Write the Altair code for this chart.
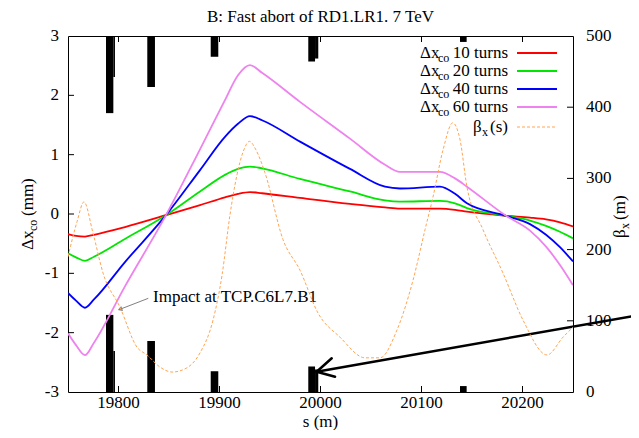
import altair as alt
import pandas as pd

# ---------------- data ----------------
s_pos = [19750.0, 19757.9, 19766.8, 19775.7, 19806.4, 19847.0, 19880.7, 19905.4,
         19918.3, 19930.2, 19942.1, 19979.7, 20029.2, 20063.9, 20078.7, 20118.3,
         20133.2, 20145.0, 20183.7, 20207.4, 20223.3, 20237.1, 20250.0]
dx10 = [-0.34, -0.37, -0.38, -0.35, -0.22, -0.02, 0.15, 0.28, 0.34, 0.37, 0.35, 0.27,
        0.17, 0.11, 0.09, 0.09, 0.07, 0.04, -0.03, -0.06, -0.09, -0.14, -0.21]
dx20 = [-0.66, -0.73, -0.79, -0.72, -0.42, -0.02, 0.38, 0.66, 0.76, 0.80, 0.77, 0.59,
        0.38, 0.23, 0.21, 0.22, 0.18, 0.10, -0.03, -0.11, -0.20, -0.30, -0.41]
dx40 = [-1.33, -1.46, -1.58, -1.44, -0.81, -0.02, 0.74, 1.30, 1.52, 1.65, 1.58, 1.22,
        0.76, 0.46, 0.43, 0.46, 0.34, 0.18, -0.03, -0.17, -0.35, -0.56, -0.80]
dx60 = [-2.01, -2.21, -2.38, -2.17, -1.22, -0.02, 1.09, 1.92, 2.34, 2.51, 2.38, 1.89,
        1.27, 0.83, 0.71, 0.71, 0.60, 0.46, -0.03, -0.28, -0.55, -0.86, -1.20]

beta_s = [19750.0, 19758.9, 19765.8, 19774.8, 19784.7, 19801.5, 19818.3, 19828.2,
          19841.1, 19853.0, 19867.8, 19880.7, 19893.6, 19902.5, 19910.4, 19917.3,
          19923.3, 19929.7, 19936.1, 19945.0, 19962.9, 19979.7, 19997.5, 20019.3,
          20044.1, 20058.9, 20075.7, 20091.6, 20103.5, 20111.4, 20121.3, 20130.9,
          20138.2, 20145.0, 20160.9, 20180.7, 20200.5, 20224.3, 20240.1, 20250.0]
beta_v = [190, 239, 267, 223, 167, 119, 63, 52, 35, 28, 34, 55, 101, 164, 249, 305,
          337, 352, 340, 308, 214, 171, 111, 77, 48, 48, 87, 157, 228, 274, 340, 378,
          354, 288, 228, 167, 101, 52, 77, 91]

ap_s0 = [19787.6, 19794.9, 19828.5, 19891.3, 19987.9, 19994.6, 20138.1]
ap_s1 = [19794.9, 19796.5, 19836.1, 19898.8, 19994.6, 19997.8, 20144.7]
ap_a = [1.70, 2.31, 2.14, 2.65, 2.57, 2.62, 2.90]

x_ticks = [19800, 19900, 20000, 20100, 20200]
y_ticks = [-3, -2, -1, 0, 1, 2, 3]
b_ticks = [0, 100, 200, 300, 400, 500]

series_names = ["10 turns", "20 turns", "40 turns", "60 turns"]
series_colors = ["#ff0000", "#00e600", "#0000ff", "#ee82ee"]
beta_color = "#ffa552"

title_text = "B: Fast abort of RD1.LR1. 7 TeV"
impact_text = "Impact at TCP.C6L7.B1"
impact_pos = {"s": [19834.2], "v": [-1.40]}
gray_arrow = {"s": [19829.5], "v": [-1.421], "s2": [19801.5], "v2": [-1.606]}
big_arrow = {"s": [20320.0, 19996.2, 19996.2], "v": [-1.69, -2.658, -2.658],
             "s2": [19996.2, 20011.1, 20014.4], "v2": [-2.658, -2.432, -2.742]}

# ---------------- layout / style ----------------
FONT = "Liberation Serif, Times New Roman, DejaVu Serif, serif"
FS = 17
W, H = 505, 356

xs = alt.Scale(domain=[19750, 20250], nice=False, zero=False)
ys = alt.Scale(domain=[-3, 3], nice=False, zero=False)
bs = alt.Scale(domain=[0, 500], nice=False, zero=False)

one = pd.DataFrame({"d": [0]})


def txt(text, x, y, size=FS, align="left", angle=0, baseline="middle"):
    return alt.Chart(one).mark_text(
        text=text, font=FONT, fontSize=size, align=align, baseline=baseline,
        angle=angle, color="black"
    ).encode(x=alt.value(x), y=alt.value(y))


rows = []
for name, vals in zip(series_names, [dx10, dx20, dx40, dx60]):
    for s, v in zip(s_pos, vals):
        rows.append({"s": s, "v": v, "series": name})
cdf = pd.DataFrame(rows)

curves = alt.Chart(cdf).mark_line(strokeWidth=1.8, interpolate="monotone", clip=True).encode(
    x=alt.X("s:Q", scale=xs, axis=None),
    y=alt.Y("v:Q", scale=ys, axis=None),
    color=alt.Color("series:N", scale=alt.Scale(domain=series_names, range=series_colors),
                    legend=None),
)

adf = pd.DataFrame({"s0": ap_s0, "s1": ap_s1, "a": ap_a})
bars_top = alt.Chart(adf).mark_rect(color="black").encode(
    x=alt.X("s0:Q", scale=xs, axis=None), x2="s1:Q",
    y=alt.Y("a:Q", scale=ys, axis=None), y2=alt.datum(3))
bars_bot = alt.Chart(adf).transform_calculate(na="-datum.a").mark_rect(color="black").encode(
    x=alt.X("s0:Q", scale=xs, axis=None), x2="s1:Q",
    y=alt.Y("na:Q", scale=ys, axis=None), y2=alt.datum(-3))

# ticks (inward, gnuplot style) and tick labels
xt = pd.DataFrame({"t": x_ticks, "lab": [str(v) for v in x_ticks]})
xtick_b = alt.Chart(xt).mark_rule(color="black").encode(
    x=alt.X("t:Q", scale=xs, axis=None), y=alt.value(H), y2=alt.value(H - 6))
xtick_t = alt.Chart(xt).mark_rule(color="black").encode(
    x=alt.X("t:Q", scale=xs, axis=None), y=alt.value(0), y2=alt.value(6))
xlab = alt.Chart(xt).mark_text(font=FONT, fontSize=FS, align="center", baseline="middle",
                               color="black").encode(
    x=alt.X("t:Q", scale=xs, axis=None), y=alt.value(H + 11), text="lab:N")

yt = pd.DataFrame({"t": y_ticks, "lab": [str(v) for v in y_ticks]})
ytick = alt.Chart(yt).transform_filter("abs(datum.t) < 3").mark_rule(color="black").encode(
    y=alt.Y("t:Q", scale=ys, axis=None), x=alt.value(0), x2=alt.value(6))
ylab = alt.Chart(yt).mark_text(font=FONT, fontSize=FS, align="right", baseline="middle",
                               color="black").encode(
    y=alt.Y("t:Q", scale=ys, axis=None), x=alt.value(-9), text="lab:N")

impact = alt.Chart(pd.DataFrame(impact_pos)).mark_text(
    text=impact_text, font=FONT, fontSize=FS, align="left", baseline="middle", color="black"
).encode(x=alt.X("s:Q", scale=xs, axis=None), y=alt.Y("v:Q", scale=ys, axis=None))

gdf = pd.DataFrame(gray_arrow)
g_line = alt.Chart(gdf).mark_rule(color="#808080", strokeWidth=1).encode(
    x=alt.X("s:Q", scale=xs, axis=None), x2="s2:Q",
    y=alt.Y("v:Q", scale=ys, axis=None), y2="v2:Q")
g_head = alt.Chart(gdf).mark_point(shape="triangle-up", filled=True, angle=249, size=28,
                                   color="#808080", opacity=1).encode(
    x=alt.X("s2:Q", scale=xs, axis=None), y=alt.Y("v2:Q", scale=ys, axis=None))

bdf = pd.DataFrame(big_arrow)
b_arrow = alt.Chart(bdf).mark_rule(color="black", strokeWidth=2.5, clip=False,
                                   strokeCap="round").encode(
    x=alt.X("s:Q", scale=xs, axis=None), x2="s2:Q",
    y=alt.Y("v:Q", scale=ys, axis=None), y2="v2:Q")

# legend (drawn by hand for the subscripts)
leg_y = [17, 35, 53, 71]
legend_layers = []
for name, col, ly in zip(series_names, series_colors, leg_y):
    legend_layers.append(txt("\u0394x", 352, ly))
    legend_layers.append(txt("co", 370, ly + 5, size=12))
    legend_layers.append(txt(name, 440, ly, align="right"))
    legend_layers.append(alt.Chart(one).mark_rule(color=col, strokeWidth=1.8).encode(
        x=alt.value(449), x2=alt.value(489), y=alt.value(ly)))
legend_layers.append(txt("\u03b2", 405, 91))
legend_layers.append(txt("x", 414, 96, size=12))
legend_layers.append(txt("(s)", 440, 91, align="right"))
legend_layers.append(alt.Chart(one).mark_rule(color=beta_color, strokeWidth=1,
                                              strokeDash=[3, 2]).encode(
    x=alt.value(449), x2=alt.value(489), y=alt.value(91)))

# titles
titles = [
    txt(title_text, W / 2, -19, align="center"),
    txt("s (m)", W / 2, 391, align="center", baseline="alphabetic"),
    txt("\u0394x", -35, 214, angle=270, baseline="alphabetic"),
    txt("co", -31, 195, size=12, angle=270, baseline="alphabetic"),
    txt("(mm)", -35, 180, angle=270, baseline="alphabetic"),
    txt("\u03b2", 557, 202, angle=270, baseline="alphabetic"),
    txt("x", 561, 193, size=12, angle=270, baseline="alphabetic"),
    txt("(m)", 557, 184, angle=270, baseline="alphabetic"),
]

left = alt.layer(bars_top, bars_bot, curves, xtick_b, xtick_t, xlab, ytick, ylab, impact,
                 g_line, g_head, b_arrow, *legend_layers, *titles)

betadf = pd.DataFrame({"s": beta_s, "b": beta_v})
beta_line = alt.Chart(betadf).mark_line(color=beta_color, strokeWidth=1, strokeDash=[3, 2],
                                        interpolate="monotone", clip=True).encode(
    x=alt.X("s:Q", scale=xs, axis=None),
    y=alt.Y("b:Q", scale=bs, axis=None))
bt = pd.DataFrame({"t": b_ticks, "lab": [str(v) for v in b_ticks]})
btick = alt.Chart(bt).transform_filter("datum.t > 0 && datum.t < 500").mark_rule(
    color="black").encode(
    y=alt.Y("t:Q", scale=bs, axis=None), x=alt.value(W - 6), x2=alt.value(W))
blab = alt.Chart(bt).mark_text(font=FONT, fontSize=FS, align="left", baseline="middle",
                               color="black").encode(
    y=alt.Y("t:Q", scale=bs, axis=None), x=alt.value(W + 13), text="lab:N")
right = alt.layer(beta_line, btick, blab)

chart = alt.layer(left, right).resolve_scale(y="independent").properties(
    width=W, height=H,
    autosize=alt.AutoSizeParams(type="none"),
    padding={"left": 60, "top": 28, "right": 58, "bottom": 38},
).configure_view(stroke="black", strokeWidth=1)

chart.save("out.html", embed_options={"renderer": "svg", "actions": False})
